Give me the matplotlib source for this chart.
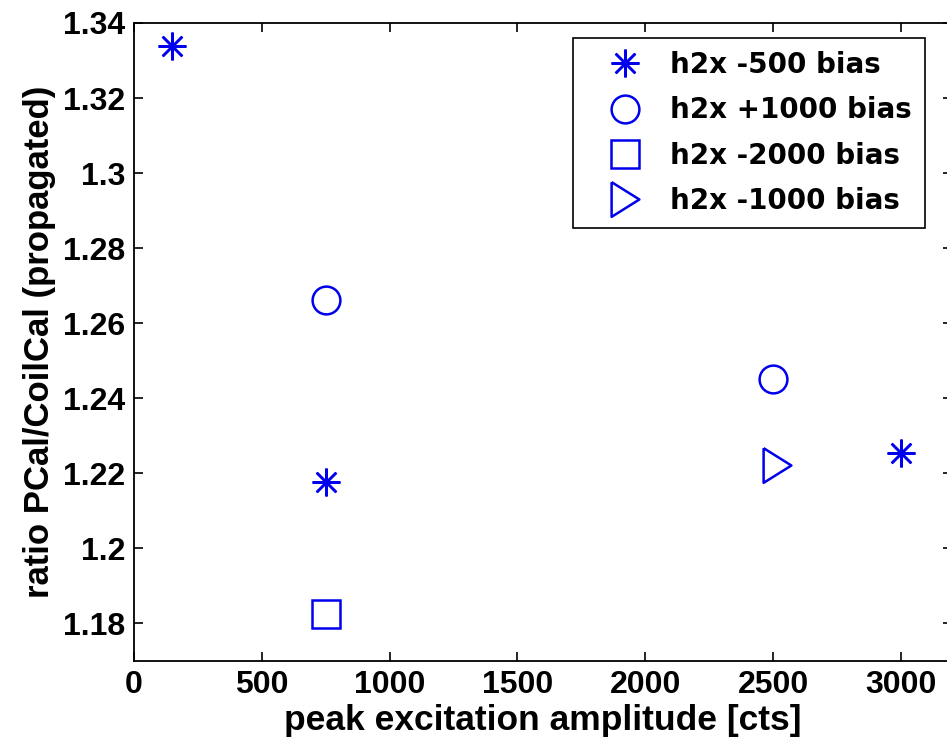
import matplotlib
matplotlib.use("Agg")
import matplotlib.pyplot as plt

# data
x_m500 = [150, 750, 3000]
y_m500 = [1.334, 1.2177, 1.2253]
x_p1000 = [750, 2500]
y_p1000 = [1.2661, 1.2451]
x_m2000 = [750]
y_m2000 = [1.1824]
x_m1000 = [2515]
y_m1000 = [1.2221]
labels = ["h2x -500 bias", "h2x +1000 bias", "h2x -2000 bias", "h2x -1000 bias"]
xticks = [0, 500, 1000, 1500, 2000, 2500, 3000]
yticks = [1.18, 1.2, 1.22, 1.24, 1.26, 1.28, 1.3, 1.32, 1.34]
ytick_labels = ["1.18", "1.2", "1.22", "1.24", "1.26", "1.28", "1.3", "1.32", "1.34"]

blue = "#0000ee"
W, H = 947, 744
fig = plt.figure(figsize=(W/100, H/100), dpi=100)
L, R, T, B = 134, 952, 23, 661
ax = fig.add_axes([L/W, 1-B/H, (R-L)/W, (B-T)/H])

ms = 20
mew = 1.8
tri = [(-0.8, 1.0), (0.8, 0.0), (-0.8, -1.0), (-0.8, 1.0)]
ax.plot(x_m500, y_m500, linestyle="none", marker=(8, 2, 0), ms=ms, mew=mew, color=blue, mfc="none", label=labels[0])
ax.plot(x_p1000, y_p1000, linestyle="none", marker="o", ms=ms, mew=mew, color=blue, mfc="none", label=labels[1])
ax.plot(x_m2000, y_m2000, linestyle="none", marker="s", ms=ms, mew=mew, color=blue, mfc="none", label=labels[2])
ax.plot(x_m1000, y_m1000, linestyle="none", marker=tri, ms=25, mew=mew, color=blue, mfc="none", label=labels[3])

ax.set_xlim(0, 3200)
ax.set_ylim(1.17, 1.34)
ax.set_xticks(xticks)
ax.set_yticks(yticks)
ax.set_yticklabels(ytick_labels)

fam = ["Liberation Sans", "DejaVu Sans"]
for lab in ax.get_xticklabels() + ax.get_yticklabels():
    lab.set_fontfamily(fam)
    lab.set_fontweight("bold")
    lab.set_fontsize(23)

ax.tick_params(direction="in", length=6.5, width=1.2, top=True, right=True, pad=6.5)
for s in ax.spines.values():
    s.set_linewidth(1.3)

ax.set_xlabel("peak excitation amplitude [cts]", fontfamily=fam, fontweight="bold", fontsize=25.5, labelpad=3)
ax.set_ylabel("ratio PCal/CoilCal (propagated)", fontfamily=fam, fontweight="bold", fontsize=25, labelpad=5)

leg = ax.legend(loc="upper left", bbox_to_anchor=(573/W, 1-38/H), bbox_transform=fig.transFigure,
                borderaxespad=0,
                prop=dict(family=["DejaVu Sans"], weight="bold", size=20),
                frameon=True, fancybox=False, edgecolor="black", framealpha=1,
                handlelength=2.8, handletextpad=0.22, borderpad=0.47, labelspacing=0.62, markerscale=1.0)
leg.get_frame().set_linewidth(1.2)

fig.savefig("out.png", dpi=100)
